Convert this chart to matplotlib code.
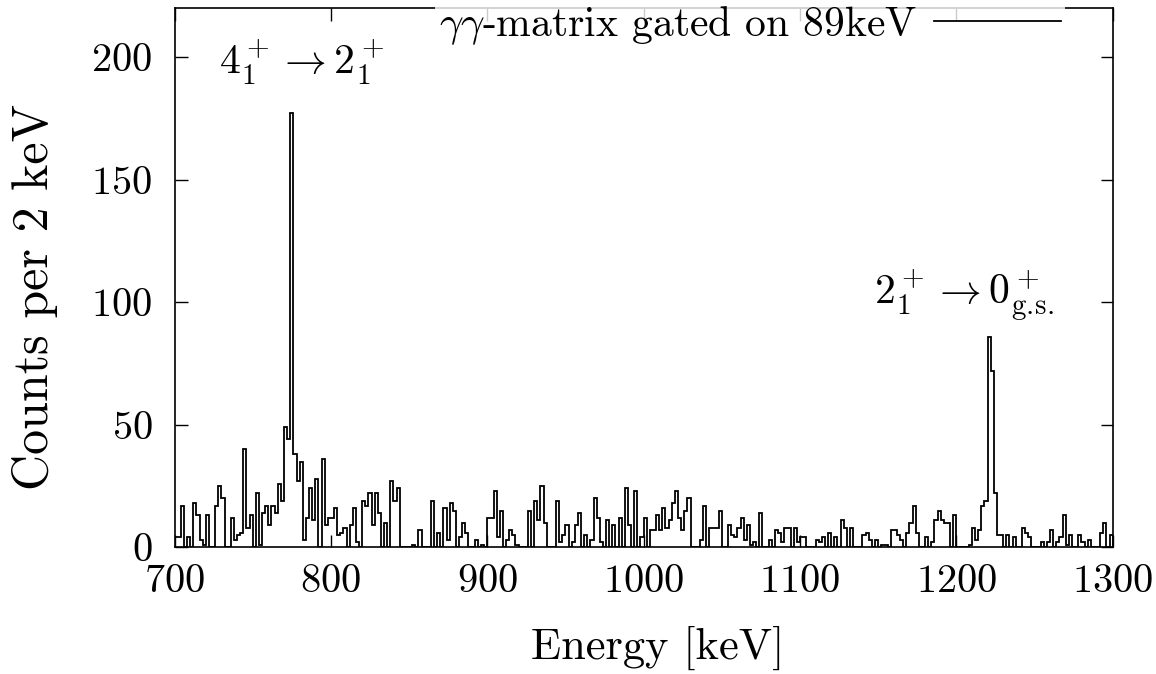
import numpy as np
import matplotlib
matplotlib.use('Agg')
import matplotlib.pyplot as plt

plt.rcParams['font.family'] = 'serif'
plt.rcParams['font.serif'] = ['cmr10']
plt.rcParams['mathtext.fontset'] = 'cm'
plt.rcParams['axes.formatter.use_mathtext'] = True

# 2 keV bins from 700 to 1300 keV
bin_lo = 700
bin_width = 2
counts = [
    4, 4, 17, 0, 4, 0, 18, 13, 3, 1, 13, 0, 0, 17, 25, 20, 0, 0, 12, 3, 5, 6, 40, 8,
    13, 0, 22, 1, 14, 17, 9, 17, 14, 26, 19, 49, 44, 177, 38, 27, 35, 3, 12, 24, 11, 28, 0, 36, 9, 12,
    12, 16, 5, 6, 8, 0, 9, 16, 2, 0, 19, 17, 22, 9, 22, 14, 0, 10, 0, 27, 19, 24, 0, 0,
    0, 0, 1, 0, 7, 0, 0, 0, 19, 0, 6, 0, 16, 3, 18, 15, 0, 4, 10, 6, 0, 0, 3, 0, 1, 0,
    12, 12, 23, 4, 15, 0, 3, 7, 5, 1, 0, 0, 0, 15, 0, 19, 11, 25, 10, 0, 0, 0, 19, 2, 5,
    9, 0, 2, 9, 14, 0, 5, 0, 3, 20, 12, 2, 0, 11, 0, 9, 0, 12, 0, 24, 9, 0, 23, 0, 4,
    12, 0, 7, 7, 13, 7, 16, 8, 11, 18, 23, 12, 7, 15, 20, 0, 0, 0, 3, 17, 0, 8, 8, 8, 15,
    0, 0, 9, 5, 4, 8, 12, 3, 9, 1, 2, 0, 14, 0, 0, 3, 0, 7, 6, 2, 8, 8, 0, 8, 2,
    4, 4, 0, 0, 0, 3, 2, 4, 0, 6, 0, 4, 0, 11, 8, 0, 8, 0, 0, 0, 5, 6, 3, 0, 3,
    0, 1, 1, 0, 7, 7, 5, 3, 0, 6, 10, 17, 6, 0, 0, 4, 0, 2, 11, 15, 11, 10, 10, 0, 13,
    0, 0, 0, 0, 1, 8, 3, 7, 17, 19, 86, 72, 22, 5, 5, 0, 5, 0, 4, 0, 0, 8, 6, 4, 0,
    0, 0, 2, 0, 2, 7, 0, 2, 4, 13, 1, 5, 0, 0, 5, 2, 0, 3, 0, 0, 0, 6, 10, 0, 5,
]
edges = bin_lo + bin_width * np.arange(len(counts) + 1)

xticks = [700, 800, 900, 1000, 1100, 1200, 1300]
yticks = [0, 50, 100, 150, 200]

fig = plt.figure(figsize=(11.56, 6.74), dpi=100)
ax = fig.add_axes([0.151, 0.188, 0.8115, 0.800])

ax.stairs(counts, edges, color='black', linewidth=1.3,
          label=r'$\gamma\gamma$-matrix gated on 89keV')

ax.set_xlim(700, 1300)
ax.set_ylim(0, 220)
ax.set_xticks(xticks)
ax.set_yticks(yticks)
ax.tick_params(direction='in', length=9, width=1, top=True, right=True,
               labelsize=29)
ax.tick_params(axis='x', pad=12)
ax.tick_params(axis='y', pad=16)
for s in ax.spines.values():
    s.set_linewidth(1.2)

ax.set_xlabel('Energy [keV]', fontsize=32, labelpad=19, x=0.515)
ax.set_ylabel('Counts per 2 keV', fontsize=36)
ax.yaxis.set_label_coords(-0.149, 0.465, transform=ax.transAxes)
ax.yaxis.label.set_va('center')

ax.text(781, 198, r'$4_1^+ \rightarrow 2_1^+$', fontsize=30, ha='center', va='center')
ax.text(1205, 103, r'$2_1^+ \rightarrow 0^+_{\mathrm{g.\!s.}}$', fontsize=30,
        ha='center', va='center')

leg = ax.legend(loc='center right', bbox_to_anchor=(0.949, 0.968), frameon=True,
                fontsize=30, markerfirst=False, handlelength=3.05, handletextpad=0.4,
                borderpad=0.1, borderaxespad=0, fancybox=False)
leg.get_frame().set_facecolor('white')
leg.get_frame().set_edgecolor('none')

fig.savefig('out.png', dpi=100)
